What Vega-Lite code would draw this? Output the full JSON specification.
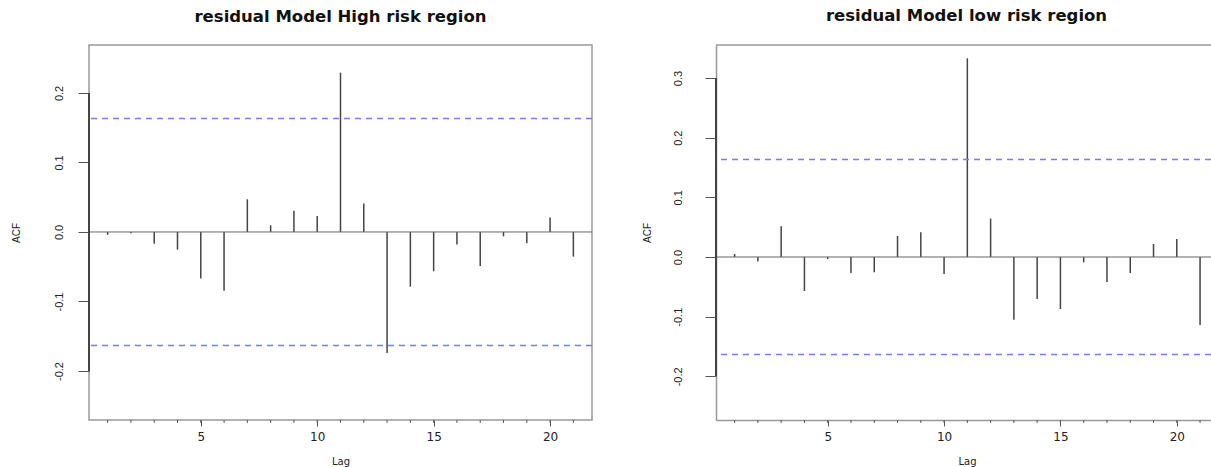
{
  "$schema": "https://vega.github.io/schema/vega-lite/v6.json",
  "background": "white",
  "padding": {"left": 10, "top": 7, "right": 0, "bottom": 0},
  "autosize": {"type": "pad"},
  "bounds": "flush",
  "spacing": 124,
  "datasets": {
    "high": [
      {"lag": 1, "acf": -0.004}, {"lag": 2, "acf": -0.002}, {"lag": 3, "acf": -0.0168},
      {"lag": 4, "acf": -0.0254}, {"lag": 5, "acf": -0.067}, {"lag": 6, "acf": -0.0845},
      {"lag": 7, "acf": 0.047}, {"lag": 8, "acf": 0.0096}, {"lag": 9, "acf": 0.0307},
      {"lag": 10, "acf": 0.023}, {"lag": 11, "acf": 0.2292}, {"lag": 12, "acf": 0.0408},
      {"lag": 13, "acf": -0.174}, {"lag": 14, "acf": -0.0787}, {"lag": 15, "acf": -0.0566},
      {"lag": 16, "acf": -0.018}, {"lag": 17, "acf": -0.049}, {"lag": 18, "acf": -0.0062},
      {"lag": 19, "acf": -0.0163}, {"lag": 20, "acf": 0.021}, {"lag": 21, "acf": -0.0355}
    ],
    "low": [
      {"lag": 1, "acf": 0.005}, {"lag": 2, "acf": -0.0077}, {"lag": 3, "acf": 0.0515},
      {"lag": 4, "acf": -0.057}, {"lag": 5, "acf": -0.0034}, {"lag": 6, "acf": -0.0268},
      {"lag": 7, "acf": -0.0256}, {"lag": 8, "acf": 0.0352}, {"lag": 9, "acf": 0.0414},
      {"lag": 10, "acf": -0.0285}, {"lag": 11, "acf": 0.333}, {"lag": 12, "acf": 0.0644},
      {"lag": 13, "acf": -0.105}, {"lag": 14, "acf": -0.0704}, {"lag": 15, "acf": -0.0872},
      {"lag": 16, "acf": -0.0089}, {"lag": 17, "acf": -0.0419}, {"lag": 18, "acf": -0.0268},
      {"lag": 19, "acf": 0.0218}, {"lag": 20, "acf": 0.0302}, {"lag": 21, "acf": -0.114}
    ],
    "ci": [{"ci": 0.1633}, {"ci": -0.1633}]
  },
  "config": {
    "view": {"stroke": null},
    "axis": {
      "grid": false,
      "labelColor": "#222",
      "titleColor": "#222",
      "tickColor": "#555",
      "domainColor": "#999",
      "domainWidth": 1.5,
      "labelFlush": false
    },
    "axisX": {
      "tickSize": 6,
      "labelPadding": 5,
      "labelFont": "DejaVu Sans",
      "labelFontSize": 12,
      "titleFont": "DejaVu Sans",
      "titleFontSize": 10,
      "titleFontWeight": "normal",
      "titleBaseline": "top",
      "titleAlign": "center",
      "titleY": 36
    },
    "axisY": {
      "labelExpr": "replace(format(datum.value, '.1f'), '\u2212', '-')",
      "tickSize": 11,
      "labelAngle": 270,
      "labelAlign": "center",
      "labelBaseline": "bottom",
      "labelFont": "Liberation Sans",
      "labelFontSize": 11,
      "labelOverlap": false,
      "titleFont": "Liberation Sans",
      "titleFontSize": 10,
      "titleFontWeight": "normal",
      "titleAngle": 270,
      "titleAlign": "center",
      "titleBaseline": "middle",
      "titleY": 187.5
    },
    "title": {"font": "DejaVu Sans", "fontSize": 16.5, "fontWeight": "bold", "color": "#111", "anchor": "middle", "offset": 20}
  },
  "hconcat": [
    {
      "width": 503,
      "height": 375,
      "title": {"text": "residual Model High risk region"},
      "view": {"stroke": "#999", "strokeWidth": 1.5},
      "layer": [
        {
          "data": {"name": "high"},
          "mark": {"type": "rule", "color": "#444", "strokeWidth": 1.5},
          "encoding": {
            "x": {
              "field": "lag", "type": "quantitative",
              "scale": {"domain": [0.2, 21.8], "nice": false, "zero": false},
              "axis": {"values": [5, 10, 15, 20], "domain": false, "title": "Lag", "titleX": 251.5}
            },
            "y": {
              "field": "acf", "type": "quantitative",
              "scale": {"domain": [-0.2705, 0.269], "nice": false, "zero": false},
              "axis": {"values": [-0.2, -0.1, 0, 0.1, 0.2], "domain": false, "labelPadding": 14, "title": "ACF", "titleX": -73}
            },
            "y2": {"datum": 0}
          }
        },
        {
          "data": {"name": "high"},
          "mark": {"type": "rule", "color": "#555", "strokeWidth": 1},
          "encoding": {
            "x": {"field": "lag", "type": "quantitative", "axis": {"values": [5, 10, 15, 20], "domain": false, "title": "Lag", "titleX": 251.5}},
            "y": {"datum": -0.2705, "type": "quantitative", "title": "ACF"},
            "y2": {"datum": -0.2748}
          }
        },
        {
          "data": {"name": "ci"},
          "mark": {"type": "rule", "color": "#7a7aff", "strokeWidth": 1.5, "strokeDash": [6, 5]},
          "encoding": {
            "y": {"field": "ci", "type": "quantitative", "title": "ACF"}
          }
        },
        {
          "data": {"values": [{}]},
          "mark": {"type": "rule", "color": "#666", "strokeWidth": 1},
          "encoding": {"y": {"datum": 0, "type": "quantitative", "title": "ACF"}}
        },
        {
          "data": {"values": [{}]},
          "mark": {"type": "rule", "color": "#444", "strokeWidth": 2},
          "encoding": {
            "x": {"datum": 0.2, "type": "quantitative", "axis": {"values": [5, 10, 15, 20], "domain": false, "title": "Lag", "titleX": 251.5}},
            "y": {"datum": -0.2, "type": "quantitative", "title": "ACF"},
            "y2": {"datum": 0.2}
          }
        }
      ]
    },
    {
      "width": 495,
      "height": 375,
      "title": {"text": "residual Model low risk region", "dx": 3},
      "layer": [
        {
          "data": {"name": "low"},
          "mark": {"type": "rule", "color": "#444", "strokeWidth": 1.5},
          "encoding": {
            "x": {
              "field": "lag", "type": "quantitative",
              "scale": {"domain": [0.2, 21.47], "nice": false, "zero": false},
              "axis": {"values": [5, 10, 15, 20], "domain": true, "title": "Lag", "titleX": 251}
            },
            "y": {
              "field": "acf", "type": "quantitative",
              "scale": {"domain": [-0.2732, 0.3553], "nice": false, "zero": false},
              "axis": {"values": [-0.2, -0.1, 0, 0.1, 0.2, 0.3], "domain": true, "labelPadding": 22, "title": "ACF", "titleX": -69}
            },
            "y2": {"datum": 0}
          }
        },
        {
          "data": {"name": "low"},
          "mark": {"type": "rule", "color": "#555", "strokeWidth": 1},
          "encoding": {
            "x": {"field": "lag", "type": "quantitative", "axis": {"values": [5, 10, 15, 20], "domain": true, "title": "Lag", "titleX": 251}},
            "y": {"datum": -0.2732, "type": "quantitative", "title": "ACF"},
            "y2": {"datum": -0.2782}
          }
        },
        {
          "data": {"name": "ci"},
          "mark": {"type": "rule", "color": "#7a7aff", "strokeWidth": 1.5, "strokeDash": [6, 5]},
          "encoding": {
            "y": {"field": "ci", "type": "quantitative", "title": "ACF"}
          }
        },
        {
          "data": {"values": [{}]},
          "mark": {"type": "rule", "color": "#666", "strokeWidth": 1},
          "encoding": {"y": {"datum": 0, "type": "quantitative", "title": "ACF"}}
        },
        {
          "data": {"values": [{}]},
          "mark": {"type": "rule", "color": "#999", "strokeWidth": 1.5},
          "encoding": {"y": {"datum": 0.3553, "type": "quantitative", "title": "ACF"}}
        },
        {
          "data": {"values": [{}]},
          "mark": {"type": "rule", "color": "#444", "strokeWidth": 2},
          "encoding": {
            "x": {"datum": 0.2, "type": "quantitative", "axis": {"values": [5, 10, 15, 20], "domain": true, "title": "Lag", "titleX": 251}},
            "y": {"datum": -0.2, "type": "quantitative", "title": "ACF"},
            "y2": {"datum": 0.3}
          }
        }
      ]
    }
  ]
}
